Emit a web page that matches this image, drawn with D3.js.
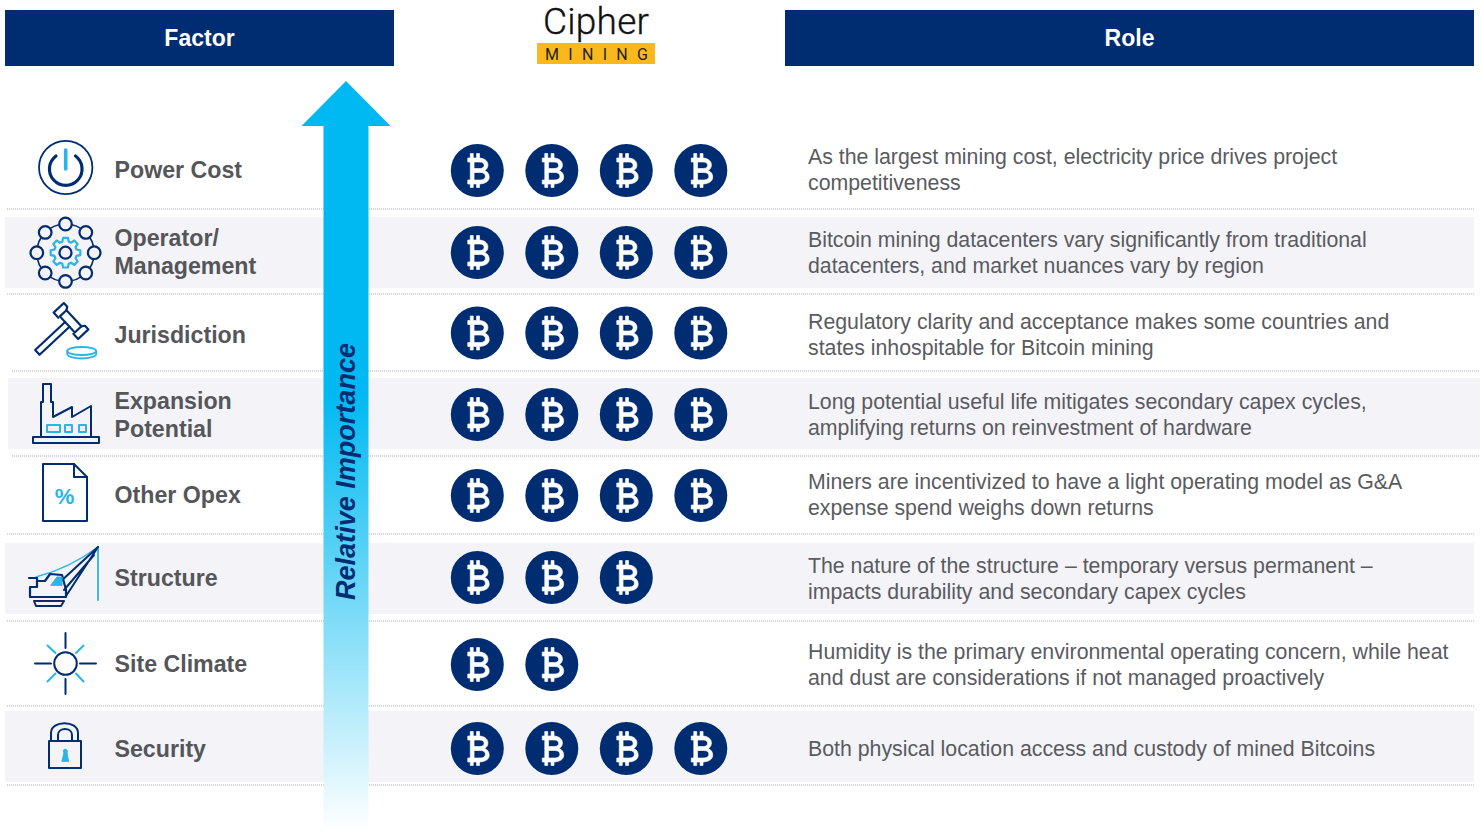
<!DOCTYPE html>
<html><head><meta charset="utf-8">
<script src="https://cdn.jsdelivr.net/npm/d3@7"></script>
<style>html,body{margin:0;padding:0;background:#fff}svg{display:block}text{font-family:"Liberation Sans",Arial,sans-serif}</style>
</head><body><svg id="c" width="1481" height="831"></svg>
<script>
const headers = ["Factor", "Role"];
const factors = ["Power Cost", "Operator/\nManagement", "Jurisdiction", "Expansion\nPotential", "Other Opex", "Structure", "Site Climate", "Security"];
const coinCounts = [4, 4, 4, 4, 4, 3, 2, 4];
const roles = [
  ["As the largest mining cost, electricity price drives project", "competitiveness"],
  ["Bitcoin mining datacenters vary significantly from traditional", "datacenters, and market nuances vary by region"],
  ["Regulatory clarity and acceptance makes some countries and", "states inhospitable for Bitcoin mining"],
  ["Long potential useful life mitigates secondary capex cycles,", "amplifying returns on reinvestment of hardware"],
  ["Miners are incentivized to have a light operating model as G&A", "expense spend weighs down returns"],
  ["The nature of the structure \u2013 temporary versus permanent \u2013", "impacts durability and secondary capex cycles"],
  ["Humidity is the primary environmental operating concern, while heat", "and dust are considerations if not managed proactively"],
  ["Both physical location access and custody of mined Bitcoins"]
];
const rowCentres = [170, 252, 332.5, 414, 495, 577, 664, 748];
const rowLabelCentres = [170, 252, 335, 415, 495, 578, 664, 749];
const roleCentres = [169, 252, 334, 414, 494, 578, 664, 748];
const dividers = [[209,7,1474],[294,7,1474],[371,12,1480],[456,12,1480],[534,7,1474],[621,7,1474],[706,7,1474],[785,7,1474]];
const bands = [[217,288,5],[378,449,8],[543,614,5],[711,782,5]];

const NAVY = "#002d72", CYAN = "#29b5e8", GREY = "#55565a";
const svg = d3.select("#c");
const defs = svg.append("defs");
const g = defs.append("linearGradient").attr("id","arrowGrad").attr("x1",0).attr("x2",0).attr("y1",0).attr("y2",1)
  .attr("gradientUnits","objectBoundingBox");
[[0,"#00b9f2"],[0.42,"#00b9f2"],[0.72,"#7fdcf8"],[1,"#ffffff"]].forEach(s=>
  g.append("stop").attr("offset",s[0]).attr("stop-color",s[1]));

svg.selectAll("rect.band").data(bands).join("rect").attr("class","band")
  .attr("x",d=>d[2]).attr("y",d=>d[0]).attr("width",d=>1474-d[2]+(d[2]===8?6:0)).attr("height",d=>d[1]-d[0]).attr("fill","#f3f3f8");
svg.selectAll("line.div").data(dividers).join("line").attr("class","div")
  .attr("x1",d=>d[1]).attr("x2",d=>d[2]).attr("y1",d=>d[0]).attr("y2",d=>d[0])
  .attr("stroke","#a9a9ad").attr("stroke-width",1).attr("stroke-dasharray","1 1");

const headerBox = [[5,394],[785,1474]];
headers.forEach((h,i)=>{
  svg.append("rect").attr("x",headerBox[i][0]).attr("y",10).attr("width",headerBox[i][1]-headerBox[i][0]).attr("height",56).attr("fill",NAVY);
  svg.append("text").attr("x",(headerBox[i][0]+headerBox[i][1])/2).attr("y",46).attr("text-anchor","middle")
    .attr("font-size",23).attr("font-weight",700).attr("fill","#fff").text(h);
});

svg.append("text").attr("x",596).attr("y",33.5).attr("text-anchor","middle").attr("font-size",37).attr("font-weight",300)
  .style("font-family","Roboto").attr("fill","#111").attr("stroke","#111").attr("stroke-width",.35).attr("textLength",106).text("Cipher");
svg.append("rect").attr("x",537).attr("y",43).attr("width",118).attr("height",21).attr("fill","#fbb81c");
svg.append("text").attr("x",545).attr("y",59.5).attr("font-size",16).attr("fill","#222").style("font-family","Roboto")
  .attr("textLength",103).attr("lengthAdjust","spacing").text("MINING");

svg.append("path").attr("d","M346,81 L390.5,126 L368.5,126 L368.5,831 L323.5,831 L323.5,126 L301.5,126 Z").attr("fill","url(#arrowGrad)");
svg.append("text").attr("transform","translate(355,600) rotate(-90)").attr("font-size",27).attr("font-weight",700)
  .attr("font-style","italic").attr("fill",NAVY).attr("textLength",257).attr("lengthAdjust","spacingAndGlyphs").text("Relative Importance");

const xCoin = d3.scaleLinear().domain([0,3]).range([477.3,700.8]);
const lineH = 28;
factors.forEach((f,i)=>{
  const ls = f.split("\n");
  ls.forEach((l,j)=>{
    svg.append("text").attr("x",114.5).attr("y",rowLabelCentres[i]+8-(ls.length-1)*lineH/2+j*lineH)
      .attr("font-size",23.2).attr("font-weight",700).attr("fill",GREY).text(l);
  });
});
roles.forEach((r,i)=>{
  r.forEach((l,j)=>{
    svg.append("text").attr("x",808).attr("y",roleCentres[i]+7.5-(r.length-1)*13+j*26)
      .attr("font-size",21.3).attr("fill","#5a5b5f").text(l);
  });
});
const coinData = coinCounts.flatMap((n,i)=>d3.range(n).map(k=>({row:i,k})));
const coin = svg.selectAll("g.coin").data(coinData).join("g").attr("class","coin")
  .attr("transform",d=>`translate(${xCoin(d.k)},${rowCentres[d.row]+.5})`);
coin.append("circle").attr("r",26.5).attr("fill",NAVY);
coin.append("path").attr("fill-rule","evenodd").attr("fill","#fff").attr("stroke","#fff").attr("stroke-width",.7)
  .attr("transform","translate(-0.3,0) scale(.84,1)")
  .attr("d","M-11,-12.5 L-8,-12.5 L-8,-17 L-4.5,-17 L-4.5,-12.5 L-0.5,-12.5 L-0.5,-17 L3,-17 L3,-12.5 C10,-12 13,-9 13,-5.5 C13,-3 11.5,-1 9,0 C12.5,1 14.5,3.5 14.5,6.5 C14.5,10.5 11,13 3,13.5 L3,17 L-0.5,17 L-0.5,13.5 L-4.5,13.5 L-4.5,17 L-8,17 L-8,13.5 L-11,13.5 L-11,9.5 L-8,9.5 L-8,-8.5 L-11,-8.5 Z M-3.5,-8.5 L-3.5,-2 L3.5,-2 C7,-2 8.5,-3.5 8.5,-5.2 C8.5,-7 7,-8.5 3.5,-8.5 Z M-3.5,2 L-3.5,9.5 L4,9.5 C8,9.5 10,8 10,5.8 C10,3.5 8,2 4,2 Z");

const icon = svg.append("g").attr("fill","none").attr("stroke",NAVY).attr("stroke-width",2).attr("stroke-linejoin","round").attr("stroke-linecap","round");
const P=(d,c,w,f)=>icon.append("path").attr("d",d).attr("stroke",c||NAVY).attr("stroke-width",w||2).attr("fill",f||"none");
icon.append("circle").attr("cx",65.7).attr("cy",167.5).attr("r",26.7).attr("stroke-width",1.8);
P("M56,156 A16.3,16.3 0 1 0 75.5,156",NAVY,3.2);
P("M65.7,150 L65.7,169",CYAN,3.6);
const opC=[65.5,252.7];
icon.append("circle").attr("cx",opC[0]).attr("cy",opC[1]).attr("r",28.7).attr("stroke-width",1.6);
d3.range(8).forEach(k=>{const a=k*Math.PI/4;
  icon.append("circle").attr("cx",opC[0]+28.7*Math.sin(a)).attr("cy",opC[1]-28.7*Math.cos(a)).attr("r",6.3).attr("fill","#f3f3f8").attr("stroke-width",2.2);
});
const gear=d3.range(8).flatMap(k=>{const a=k*Math.PI/4;const pts=[[-.28,11.5],[-.16,15],[.16,15],[.28,11.5]];
  return pts.map(p=>[opC[0]+p[1]*Math.sin(a+p[0]),opC[1]-p[1]*Math.cos(a+p[0])]);});
P(d3.line()(gear)+"Z",CYAN,2.2);
icon.append("circle").attr("cx",opC[0]).attr("cy",opC[1]).attr("r",6).attr("stroke-width",2.2);
const gv=icon.append("g").attr("transform","translate(71,321) rotate(-43)").attr("stroke-width",2.2);
gv.append("path").attr("d","M-5,-3.2 L-46,-3.2 L-46,3.2 L-5,3.2");
gv.append("path").attr("d","M-5,-11 L4,-11 L4,11 L-5,11 Z");
gv.append("path").attr("d","M-7,-11 L-7,-18 L7,-18 L7,-13 L4,-11 M-7,11 L-7,18 L7,18 L7,13 L4,11");
icon.append("ellipse").attr("cx",81.7).attr("cy",351).attr("rx",14.5).attr("ry",4).attr("stroke",CYAN).attr("stroke-width",1.8);
P("M67.2,351 L67.2,354 C67.2,356.5 74,358.5 81.7,358.5 C89,358.5 96.2,356.5 96.2,354 L96.2,351",CYAN,1.8);
P("M33,437 L99,437 L99,443 L33,443 Z",NAVY,2);
P("M41,437 L41,402 L43,402 L43,384 L51,384 L51,402 L53,402 L53,417 L72,407 L72,417 L91,406 L91,437",NAVY,2);
[[47,13],[65,7],[79,7]].forEach(d=>icon.append("rect").attr("x",d[0]).attr("y",425).attr("width",d[1]).attr("height",7).attr("stroke",CYAN).attr("stroke-width",2));
P("M43,464 L74,464 L87,477 L87,521 L43,521 Z",NAVY,2);
P("M74,464 L74,477 L87,477",NAVY,2);
svg.append("text").attr("x",64.5).attr("y",504).attr("text-anchor","middle").attr("font-size",22).attr("font-weight",700).attr("fill",CYAN).text("%");
P("M98,547 C78,562 55,572 36,577",CYAN,1.4);
P("M98,547 L98,600",CYAN,1.8);
P("M98,547 L66,596 M98,547 L60,582 M94,555 L64,590",NAVY,2);
P("M29,578 L37,578 L37,587 L30,587 L30,597 L66,597 L66,590 M37,581 L45,581 L50,574 L62,575 L66,590",NAVY,2.2);
P("M51,585 L57,577 L62,577 L62,585 Z",CYAN,1,CYAN);
P("M34,601 L64,601 L61,606 L36,606 Z",NAVY,2);
icon.append("circle").attr("cx",65.5).attr("cy",663.5).attr("r",11.3).attr("stroke-width",2);
P("M65.5,633 L65.5,648 M65.5,679 L65.5,694 M35,663.5 L51,663.5 M80,663.5 L96,663.5",NAVY,2);
P("M47.5,645.5 L55.5,653 M83.5,645.5 L76,653 M47.5,681.5 L55.5,673.5 M83.5,681.5 L76,673.5",CYAN,2);
P("M49,741 L81,741 L81,768 L49,768 Z",NAVY,2);
P("M51,741 L51,733 C51,720 78,720 78,733 L78,741 M58,741 L58,735 C58,727 72,727 72,735 L72,741",NAVY,2);
P("M62,761 L64,753 C61,748 69,748 67,753 L68.5,761 Z",CYAN,1,CYAN);
</script></body></html>
